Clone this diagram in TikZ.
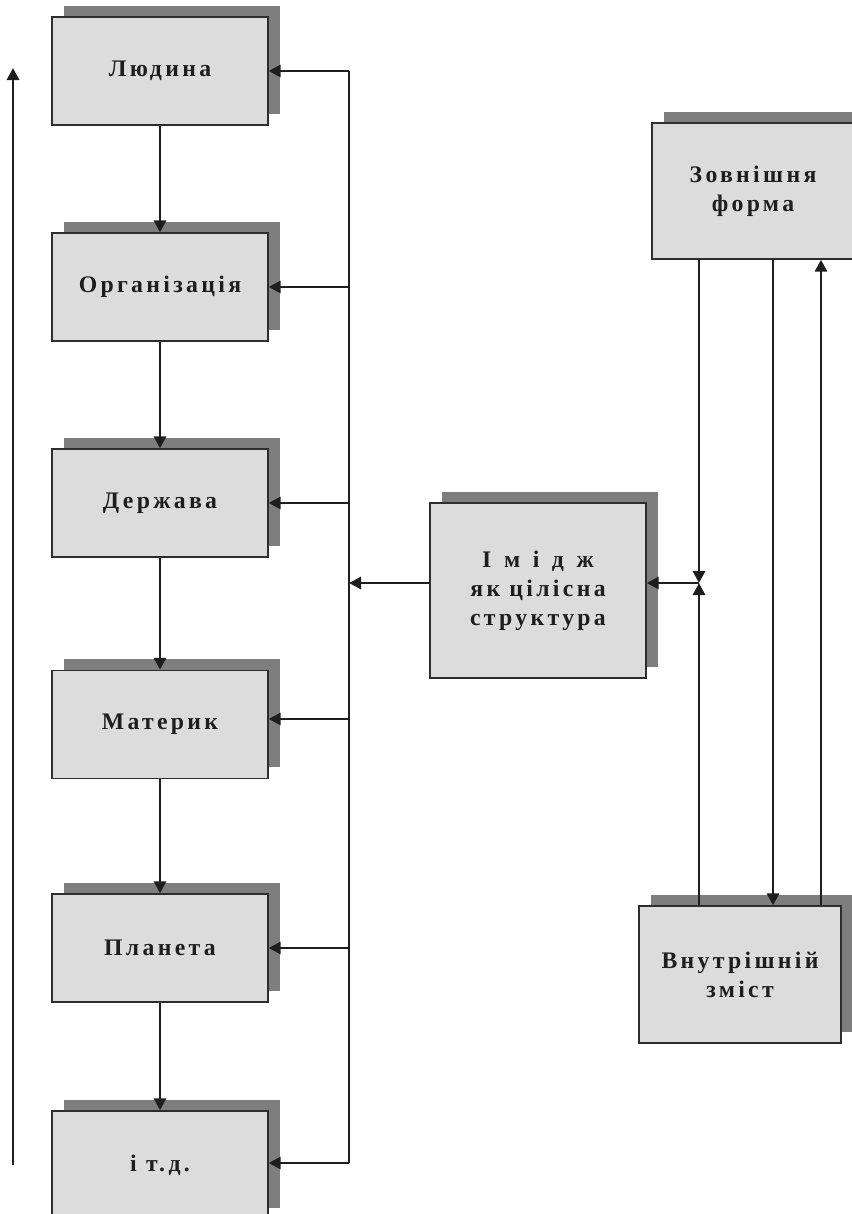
\documentclass[tikz,border=0pt]{standalone}
\usepackage{fontspec}
\setmainfont{Liberation Serif}
\newfontfamily\boxfont[LetterSpace=14]{Liberation Serif}
\usetikzlibrary{arrows.meta,shadows}

\definecolor{boxfill}{HTML}{DCDCDC}
\definecolor{shadowgray}{HTML}{7E7E7E}
\definecolor{edge}{HTML}{2E2E2E}
\definecolor{ink}{HTML}{1E1E1E}

\tikzset{
  card/.style={draw=edge, line width=1pt, fill=boxfill,
    drop shadow={shadow xshift=9pt, shadow yshift=8.5pt, fill=shadowgray, opacity=1},
    minimum width=162pt, minimum height=81pt, inner sep=0pt,
    font=\boxfont\bfseries\fontsize{17.8}{21.75}\selectfont,
    text=ink, align=center},
  arr/.style={-{Triangle[length=9pt,width=9pt]}, line width=2.2pt, draw=ink},
  bus/.style={line width=1pt, draw=ink}
}

\begin{document}
\begin{tikzpicture}[x=0.75pt,y=-0.75pt]
\clip (0,0) rectangle (852,1214);

% levels of the image, from person upwards
\node[card] (b1) at (160,71)    {Людина};
\node[card] (b2) at (160,287)   {Організація};
\node[card] (b3) at (160,503)   {Держава};
\node[card] (b4) at (160,724.5) {Материк};
\node[card] (b5) at (160,948)   {Планета};
\node[card] (b6) at (160,1165)  {і т.д.};

% the image as a whole and its two sides
\node[card, minimum height=131.25pt] (im) at (538,590.5)
  {І\hspace{2.5pt} м\hspace{2.5pt} і\hspace{2.5pt} д\hspace{2.5pt} ж\hspace{6pt}\\як цілісна\\структура};
\node[card, minimum width=151.5pt, minimum height=102pt] (zf) at (753,191)
  {Зовнішня\\форма};
\node[card, minimum width=151.5pt, minimum height=102.75pt] (vz) at (740,974.5)
  {Внутрішній\\зміст};

% chain between levels
\foreach \a/\b in {b1/b2,b2/b3,b3/b4,b4/b5,b5/b6}
  \draw[arr] (\a.south) -- (\b.north);

% distribution bus feeding every level
\coordinate (f1) at (349,71);
\coordinate (f2) at (349,287);
\coordinate (f3) at (349,503);
\coordinate (f4) at (349,719);
\coordinate (f5) at (349,948);
\coordinate (f6) at (349,1163);
\draw[bus] (f1) -- (f6);
\foreach \i in {1,...,6}
  \draw[arr] (f\i) -- (f\i -| b\i.east);

\coordinate (hub) at (349,583);
\draw[arr] (hub -| im.west) -- (hub);

% junction of form and content
\coordinate (j) at (699,583);
\draw[arr] (j |- zf.south) -- (j);
\draw[arr] (j |- vz.north) -- (j);
\draw[arr] (j) -- (j -| im.east);

\coordinate (dn) at (773,0);
\coordinate (up) at (821,0);
\draw[arr] (dn |- zf.south) -- (dn |- vz.north);
\draw[arr] (up |- vz.north) -- (up |- zf.south);

% upward direction arrow
\coordinate (lb) at (13,1165);
\coordinate (lt) at (13,68);
\draw[arr] (lb) -- (lt);
\end{tikzpicture}
\end{document}
